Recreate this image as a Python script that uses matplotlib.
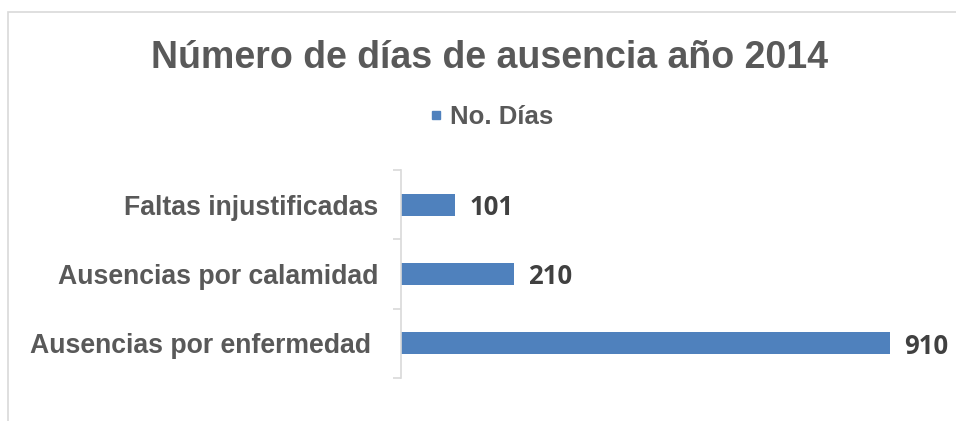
import matplotlib.pyplot as plt
from matplotlib.patches import Rectangle
from matplotlib.lines import Line2D

categories = ["Ausencias por enfermedad ", "Ausencias por calamidad", "Faltas injustificadas"]
dias = [910, 210, 101]
title = "Número de días de ausencia año 2014"
series_name = "No. Días"

bar_color = "#4F81BD"
text_gray = "#595959"
axis_gray = "#D9D9D9"

plt.rcParams["font.family"] = ["Liberation Sans", "DejaVu Sans"]

fig = plt.figure(figsize=(9.56, 4.21), dpi=100)
ax = fig.add_axes([0.4195, 0.102, 0.5615, 0.494])

# outer chart frame (cut at right and bottom like the screenshot)
fig.patches.append(Rectangle((8 / 956, -0.1), 1.2, 1.1 - 12 / 421, transform=fig.transFigure,
                             fill=False, edgecolor=axis_gray, linewidth=1.2))

pos = list(range(len(categories)))
bars = ax.barh(pos, dias, height=0.32, color=bar_color, label=series_name)
ax.set_xlim(0, 1000)
ax.set_ylim(-0.5, len(categories) - 0.5)

for b, v in zip(bars, dias):
    ax.text(v + 27, b.get_y() + b.get_height() / 2 - 0.04, str(v), va="center", ha="left",
            fontsize=18.5, fontweight="bold", color="#404040", family=["Open Sans", "DejaVu Sans"])

ax.set_yticks([p - 0.5 for p in pos] + [len(categories) - 0.5])
ax.set_yticklabels([])
ax.set_yticks(pos, minor=True)
ax.set_yticklabels(categories, minor=True, fontsize=19.2, fontweight="bold", color=text_gray)
ax.tick_params(axis="y", which="minor", length=0, pad=16.5)
ax.tick_params(axis="y", which="major", length=6, color=axis_gray, width=1.2)
ax.set_xticks([])
for s in ["top", "right", "bottom"]:
    ax.spines[s].set_visible(False)
ax.spines["left"].set_color(axis_gray)
ax.spines["left"].set_linewidth(1.2)

fig.text(0.512, 0.862, title, ha="center", va="center", fontsize=27, fontweight="bold", color=text_gray)
handle = Line2D([], [], linestyle="none", marker="s", markersize=6, color=bar_color)
fig.legend(handles=[handle], labels=[series_name], loc="center", bbox_to_anchor=(0.515, 0.722),
           frameon=False, handlelength=0.4, handletextpad=0.35,
           prop={"size": 18.5, "weight": "bold"}, labelcolor=text_gray)

fig.savefig("out.png", dpi=100)
